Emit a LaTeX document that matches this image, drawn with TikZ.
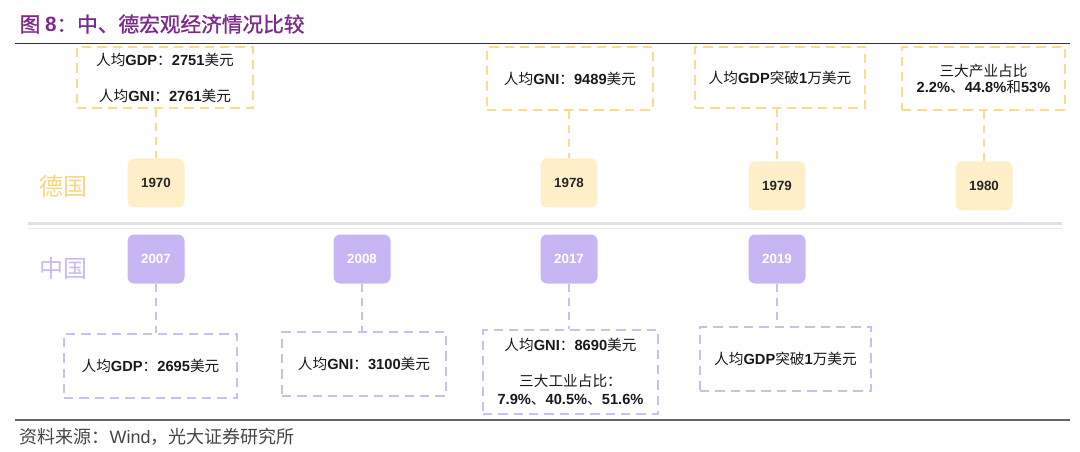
\documentclass[tikz,border=0pt]{standalone}
\usepackage{fontspec}
\setmainfont{Liberation Sans}
\newfontfamily\cjk{Noto Sans CJK SC}
\newfontfamily\cjkheavy[FakeBold=1.2]{Noto Sans CJK SC}
\usetikzlibrary{positioning}
\definecolor{titlepurple}{RGB}{125,42,142}
\definecolor{goldfill}{RGB}{254,239,200}
\definecolor{goldline}{RGB}{246,222,140}
\definecolor{goldtext}{RGB}{246,214,128}
\definecolor{violetfill}{RGB}{200,182,244}
\definecolor{violetline}{RGB}{202,192,236}
\definecolor{violettext}{RGB}{200,186,240}
\definecolor{sepgray}{RGB}{225,225,225}
\definecolor{srcgray}{RGB}{70,70,70}
\newcommand{\zh}[1]{{\cjk #1}}

\begin{document}
\begin{tikzpicture}[x=0.75pt,y=-0.75pt,
  yearbox/.style={rounded corners=5pt, minimum width=42.75pt, minimum height=36.75pt, inner sep=0pt, font=\fontsize{10}{12}\selectfont\bfseries},
  deyear/.style={yearbox, fill=goldfill, text=black!85},
  cnyear/.style={yearbox, fill=violetfill, text=white},
  infobox/.style 2 args={draw, line width=2pt, dash pattern=on 7pt off 4.5pt, minimum width=#1*0.75pt, minimum height=#2*0.75pt, align=center, inner sep=2pt, text=black!90, font=\fontsize{11}{13.5}\selectfont},
  deinfo/.style 2 args={infobox={#1}{#2}, draw=goldline},
  cninfo/.style 2 args={infobox={#1}{#2}, draw=violetline},
  deconn/.style={draw=goldline, line width=2pt, dash pattern=on 6pt off 4.5pt},
  cnconn/.style={draw=violetline, line width=2pt, dash pattern=on 6pt off 4.5pt},
  country/.style={font=\cjk\fontsize{18}{18}\selectfont}]
\useasboundingbox (0,0) rectangle (1080,452);

% title and rules
\node[anchor=west, text=titlepurple, font=\fontsize{15.5}{16}\selectfont] (title) at (15,24) {{\cjkheavy 图 }\textbf{8}{\cjkheavy ：中、德宏观经济情况比较}};
\draw[black!80, line width=1pt] (15,43.5) -- (1070,43.5);
\draw[black!60, line width=1pt] (15,420) -- (1070,420);
\node[anchor=west, text=srcgray, font=\fontsize{13.5}{14}\selectfont] (source) at (15,437) {\zh{资料来源：}Wind\zh{，光大证券研究所}};

% separator
\draw[sepgray, line width=2.5pt] (28,223.5) -- (1062,223.5);
\draw[sepgray!70, line width=1pt] (28,228.5) -- (1062,228.5);
\node[country, text=goldtext] (de) at (63,186) {德国};
\node[country, text=violettext] (cn) at (63,268) {中国};

% Germany
\node[deyear] (y1970) at (156,183) {1970};
\node[deyear] (y1978) at (569,183) {1978};
\node[deyear] (y1979) at (777,186) {1979};
\node[deyear] (y1980) at (984,186) {1980};
\node[deinfo={176}{61}] (t1970) at (165,77.5) {\zh{人均}\textbf{GDP}\zh{：}\textbf{2751}\zh{美元}\\[13.5pt]\zh{人均}\textbf{GNI}\zh{：}\textbf{2761}\zh{美元}};
\node[deinfo={166}{63}] (t1978) at (570,78.5) {\zh{人均}\textbf{GNI}\zh{：}\textbf{9489}\zh{美元}};
\node[deinfo={170}{61}] (t1979) at (780,77.5) {\zh{人均}\textbf{GDP}\zh{突破}\textbf{1}\zh{万美元}};
\node[deinfo={163}{63}] (t1980) at (983.5,78.5) {\zh{三大产业占比}\\[-1.5pt]\textbf{2.2\%}\zh{、}\textbf{44.8\%}\zh{和}\textbf{53\%}};
\draw[deconn] (t1970.south -| y1970.north) -- (y1970.north);
\draw[deconn] (t1978.south -| y1978.north) -- (y1978.north);
\draw[deconn] (t1979.south -| y1979.north) -- (y1979.north);
\draw[deconn] (t1980.south -| y1980.north) -- (y1980.north);

% China
\node[cnyear] (y2007) at (156,259) {2007};
\node[cnyear] (y2008) at (362,259) {2008};
\node[cnyear] (y2017) at (569,259) {2017};
\node[cnyear] (y2019) at (777,259) {2019};
\node[cninfo={173}{64}] (b2007) at (150.5,366) {\zh{人均}\textbf{GDP}\zh{：}\textbf{2695}\zh{美元}};
\node[cninfo={164}{64}] (b2008) at (364,364) {\zh{人均}\textbf{GNI}\zh{：}\textbf{3100}\zh{美元}};
\node[cninfo={175}{84}] (b2017) at (570.5,372) {\zh{人均}\textbf{GNI}\zh{：}\textbf{8690}\zh{美元}\\[13.5pt]\zh{三大工业占比：}\\\textbf{7.9\%}\zh{、}\textbf{40.5\%}\zh{、}\textbf{51.6\%}};
\node[cninfo={171}{64}] (b2019) at (785.5,359) {\zh{人均}\textbf{GDP}\zh{突破}\textbf{1}\zh{万美元}};
\draw[cnconn] (y2007.south) -- (y2007.south |- b2007.north);
\draw[cnconn] (y2008.south) -- (y2008.south |- b2008.north);
\draw[cnconn] (y2017.south) -- (y2017.south |- b2017.north);
\draw[cnconn] (y2019.south) -- (y2019.south |- b2019.north);
\end{tikzpicture}
\end{document}
